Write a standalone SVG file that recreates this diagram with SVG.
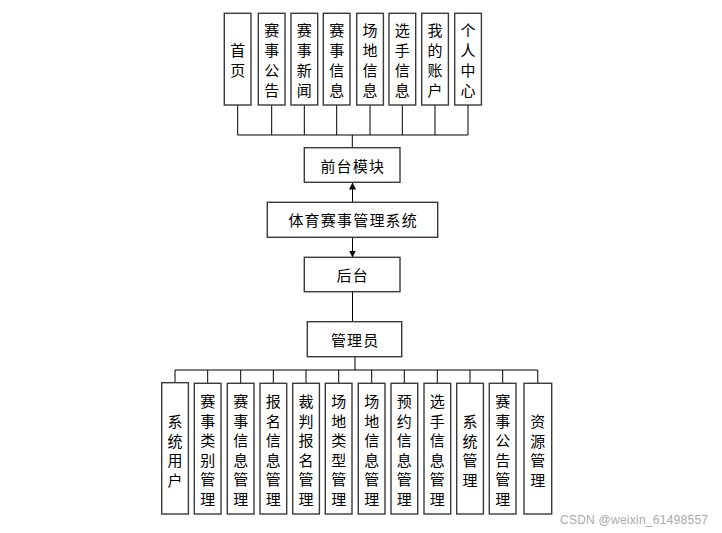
<svg xmlns="http://www.w3.org/2000/svg" width="722" height="533" viewBox="0 0 722 533">
<style>
.box{fill:#fff;stroke:#3a3a3a;stroke-width:1.4}
.ln{stroke:#000;stroke-width:1;fill:none}
.t{font-family:"Noto Sans CJK SC","Liberation Sans",sans-serif;font-size:15px;fill:#000;text-anchor:middle;dominant-baseline:central}
.h{letter-spacing:1.2px}
.wm{font-family:"Liberation Sans",sans-serif;font-size:12px;fill:#aaa}
</style>
<defs>
<marker id="ah" viewBox="0 0 10 10" refX="10" refY="5" markerWidth="7" markerHeight="7" orient="auto" markerUnits="userSpaceOnUse">
<path d="M0,0 L10,5 L0,10 z" fill="#000"/>
</marker>
</defs>
<rect width="722" height="533" fill="#fff"/>
<g id="connectors">
<path class="ln" d="M237.7,105V135M271.7,105V135M304.3,105V135M336.7,105V135M370,105V135M402.3,105V135M435,105V135M468,105V135M237.7,135H468M352.3,135V148"/>
<path class="ln" d="M352.5,203V182.5" marker-end="url(#ah)"/>
<path class="ln" d="M352.5,237.5V257.5" marker-end="url(#ah)"/>
<path class="ln" d="M352.5,292V322"/>
<path class="ln" d="M355,357V370M175,370H537.8M175,370V383M207.7,370V383M240.7,370V383M273.3,370V383M306,370V383M338.7,370V383M371.7,370V383M404.3,370V383M437.3,370V383M470,370V383M502.7,370V383M537.8,370V383"/>
</g>
<g id="n_home"><rect class="box" x="224.3" y="13.3" width="26.7" height="91.7"/><text class="t"><tspan x="237.7" y="49">首</tspan><tspan x="237.7" y="69">页</tspan></text></g>
<g id="n_notice"><rect class="box" x="258.3" y="13.3" width="26.7" height="91.7"/><text class="t"><tspan x="271.7" y="29">赛</tspan><tspan x="271.7" y="49">事</tspan><tspan x="271.7" y="69">公</tspan><tspan x="271.7" y="89">告</tspan></text></g>
<g id="n_news"><rect class="box" x="291" y="13.3" width="26.7" height="91.7"/><text class="t"><tspan x="304.3" y="29">赛</tspan><tspan x="304.3" y="49">事</tspan><tspan x="304.3" y="69">新</tspan><tspan x="304.3" y="89">闻</tspan></text></g>
<g id="n_info"><rect class="box" x="323.3" y="13.3" width="26.7" height="91.7"/><text class="t"><tspan x="336.7" y="29">赛</tspan><tspan x="336.7" y="49">事</tspan><tspan x="336.7" y="69">信</tspan><tspan x="336.7" y="89">息</tspan></text></g>
<g id="n_venue"><rect class="box" x="356.7" y="13.3" width="26.7" height="91.7"/><text class="t"><tspan x="370" y="29">场</tspan><tspan x="370" y="49">地</tspan><tspan x="370" y="69">信</tspan><tspan x="370" y="89">息</tspan></text></g>
<g id="n_player"><rect class="box" x="389" y="13.3" width="26.7" height="91.7"/><text class="t"><tspan x="402.3" y="29">选</tspan><tspan x="402.3" y="49">手</tspan><tspan x="402.3" y="69">信</tspan><tspan x="402.3" y="89">息</tspan></text></g>
<g id="n_account"><rect class="box" x="421.7" y="13.3" width="26.7" height="91.7"/><text class="t"><tspan x="435" y="29">我</tspan><tspan x="435" y="49">的</tspan><tspan x="435" y="69">账</tspan><tspan x="435" y="89">户</tspan></text></g>
<g id="n_center"><rect class="box" x="454.7" y="13.3" width="26.7" height="91.7"/><text class="t"><tspan x="468" y="29">个</tspan><tspan x="468" y="49">人</tspan><tspan x="468" y="69">中</tspan><tspan x="468" y="89">心</tspan></text></g>
<g id="n_front"><rect class="box" x="304.3" y="147.7" width="95.7" height="34.6"/><text class="t h" x="352.8" y="165">前台模块</text></g>
<g id="n_system"><rect class="box" x="267.3" y="202.3" width="170.4" height="35"/><text class="t h" x="353.2" y="219.8">体育赛事管理系统</text></g>
<g id="n_back"><rect class="box" x="304.3" y="257.3" width="95.7" height="34.4"/><text class="t h" x="352.8" y="274.5">后台</text></g>
<g id="n_admin"><rect class="box" x="307.3" y="321.7" width="94.4" height="35"/><text class="t h" x="355.2" y="339.2">管理员</text></g>
<g id="n_b1"><rect class="box" x="161.7" y="382.7" width="26.7" height="131.3"/><text class="t"><tspan x="175" y="420">系</tspan><tspan x="175" y="439.5">统</tspan><tspan x="175" y="459">用</tspan><tspan x="175" y="478.5">户</tspan></text></g>
<g id="n_b2"><rect class="box" x="194.3" y="383.3" width="26.7" height="130.7"/><text class="t"><tspan x="207.7" y="400">赛</tspan><tspan x="207.7" y="419.5">事</tspan><tspan x="207.7" y="439">类</tspan><tspan x="207.7" y="458.5">别</tspan><tspan x="207.7" y="478">管</tspan><tspan x="207.7" y="497.5">理</tspan></text></g>
<g id="n_b3"><rect class="box" x="227.3" y="383.3" width="26.7" height="130.7"/><text class="t"><tspan x="240.7" y="400">赛</tspan><tspan x="240.7" y="419.5">事</tspan><tspan x="240.7" y="439">信</tspan><tspan x="240.7" y="458.5">息</tspan><tspan x="240.7" y="478">管</tspan><tspan x="240.7" y="497.5">理</tspan></text></g>
<g id="n_b4"><rect class="box" x="260" y="383.3" width="26.7" height="130.7"/><text class="t"><tspan x="273.3" y="400">报</tspan><tspan x="273.3" y="419.5">名</tspan><tspan x="273.3" y="439">信</tspan><tspan x="273.3" y="458.5">息</tspan><tspan x="273.3" y="478">管</tspan><tspan x="273.3" y="497.5">理</tspan></text></g>
<g id="n_b5"><rect class="box" x="292.7" y="383.3" width="26.7" height="130.7"/><text class="t"><tspan x="306" y="400">裁</tspan><tspan x="306" y="419.5">判</tspan><tspan x="306" y="439">报</tspan><tspan x="306" y="458.5">名</tspan><tspan x="306" y="478">管</tspan><tspan x="306" y="497.5">理</tspan></text></g>
<g id="n_b6"><rect class="box" x="325.3" y="383.3" width="26.7" height="130.7"/><text class="t"><tspan x="338.7" y="400">场</tspan><tspan x="338.7" y="419.5">地</tspan><tspan x="338.7" y="439">类</tspan><tspan x="338.7" y="458.5">型</tspan><tspan x="338.7" y="478">管</tspan><tspan x="338.7" y="497.5">理</tspan></text></g>
<g id="n_b7"><rect class="box" x="358.3" y="383.3" width="26.7" height="130.7"/><text class="t"><tspan x="371.7" y="400">场</tspan><tspan x="371.7" y="419.5">地</tspan><tspan x="371.7" y="439">信</tspan><tspan x="371.7" y="458.5">息</tspan><tspan x="371.7" y="478">管</tspan><tspan x="371.7" y="497.5">理</tspan></text></g>
<g id="n_b8"><rect class="box" x="391" y="383.3" width="26.7" height="130.7"/><text class="t"><tspan x="404.3" y="400">预</tspan><tspan x="404.3" y="419.5">约</tspan><tspan x="404.3" y="439">信</tspan><tspan x="404.3" y="458.5">息</tspan><tspan x="404.3" y="478">管</tspan><tspan x="404.3" y="497.5">理</tspan></text></g>
<g id="n_b9"><rect class="box" x="424" y="383.3" width="26.7" height="130.7"/><text class="t"><tspan x="437.3" y="400">选</tspan><tspan x="437.3" y="419.5">手</tspan><tspan x="437.3" y="439">信</tspan><tspan x="437.3" y="458.5">息</tspan><tspan x="437.3" y="478">管</tspan><tspan x="437.3" y="497.5">理</tspan></text></g>
<g id="n_b10"><rect class="box" x="456.7" y="383.3" width="26.7" height="130.7"/><text class="t"><tspan x="470" y="420">系</tspan><tspan x="470" y="439.5">统</tspan><tspan x="470" y="459">管</tspan><tspan x="470" y="478.5">理</tspan></text></g>
<g id="n_b11"><rect class="box" x="489.3" y="383.3" width="26.7" height="130.7"/><text class="t"><tspan x="502.7" y="400">赛</tspan><tspan x="502.7" y="419.5">事</tspan><tspan x="502.7" y="439">公</tspan><tspan x="502.7" y="458.5">告</tspan><tspan x="502.7" y="478">管</tspan><tspan x="502.7" y="497.5">理</tspan></text></g>
<g id="n_b12"><rect class="box" x="524" y="383.3" width="27.7" height="130.7"/><text class="t"><tspan x="537.8" y="420">资</tspan><tspan x="537.8" y="439.5">源</tspan><tspan x="537.8" y="459">管</tspan><tspan x="537.8" y="478.5">理</tspan></text></g>
<text class="wm" x="560" y="524" textLength="148">CSDN @weixin_61498557</text>
</svg>
